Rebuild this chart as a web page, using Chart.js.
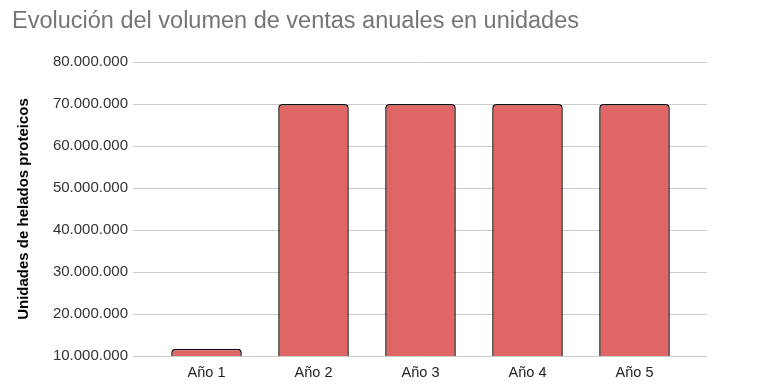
<!DOCTYPE html>
<html>
<head>
<meta charset="utf-8">
<script src="https://cdn.jsdelivr.net/npm/chart.js@4/dist/chart.umd.min.js"></script>
<style>
  html, body { margin: 0; padding: 0; background: #fff; }
  #wrap { width: 763px; height: 387px; position: relative; }
</style>
</head>
<body>
<div id="wrap"><canvas id="myChart"></canvas></div>
<script>
var years = ["Año 1", "Año 2", "Año 3", "Año 4", "Año 5"];
var unitsSold = [11700000, 70000000, 70000000, 70000000, 70000000];
var yMin = 10000000;
var yMax = 80000000;
var yStep = 10000000;

var gridColor = "#cccccc";
var fontFam = "'Liberation Sans', Arial, sans-serif";

function dotted(v){
    // 10000000 -> 10.000.000
    return String(Math.round(v)).replace(/\B(?=(\d{3})+(?!\d))/g, ".");
}

document.addEventListener("DOMContentLoaded", function(){
    initChart();
});

function initChart(){
    const ctx = document.getElementById("myChart").getContext("2d");
    new Chart(ctx, {
        type: "bar",
        data: {
            labels: years,
            datasets: [{
                label: "Unidades",
                data: unitsSold,
                backgroundColor: "#e06666",
                borderColor: "#111111",
                borderWidth: 1.5,
                borderSkipped: "bottom",
                borderRadius: { topLeft: 4, topRight: 4, bottomLeft: 0, bottomRight: 0 },
                categoryPercentage: 1,
                barPercentage: 0.66
            }]
        },
        options: {
            responsive: true,
            maintainAspectRatio: false,
            animation: false,
            layout: {
                padding: { left: 12, right: 56, top: 0, bottom: 0 }
            },
            plugins: {
                legend: { display: false },
                tooltip: { enabled: false },
                title: {
                    display: true,
                    text: "Evolución del volumen de ventas anuales en unidades",
                    align: "start",
                    color: "#757575",
                    font: { family: fontFam, size: 23.5, weight: "normal" },
                    padding: { top: 7.5, bottom: 26.3 }
                }
            },
            scales: {
                x: {
                    offset: true,
                    afterFit: function(s){ s.height = 31; },
                    grid: { display: false, drawTicks: false },
                    border: { display: false },
                    ticks: {
                        color: "#222222",
                        padding: 8,
                        font: { family: fontFam, size: 14.5 }
                    }
                },
                y: {
                    min: yMin,
                    max: yMax,
                    afterFit: function(s){ s.width = 141; },
                    grid: { color: gridColor, tickLength: 20, tickColor: gridColor },
                    border: { display: false },
                    ticks: {
                        stepSize: yStep,
                        padding: 5,
                        color: "#333333",
                        font: { family: fontFam, size: 15 },
                        callback: function(v){ return dotted(v); }
                    },
                    title: {
                        display: true,
                        text: "Unidades de helados proteicos",
                        color: "#000000",
                        font: { family: fontFam, size: 15, weight: "bold" },
                        padding: { top: 3, bottom: 4 }
                    }
                },
                y2: {
                    position: "right",
                    min: yMin,
                    max: yMax,
                    afterFit: function(s){ s.width = 19; },
                    grid: { drawOnChartArea: false, tickLength: 19, tickColor: gridColor },
                    border: { display: false },
                    ticks: { stepSize: yStep, display: false }
                }
            }
        }
    });
}
</script>
</body>
</html>
